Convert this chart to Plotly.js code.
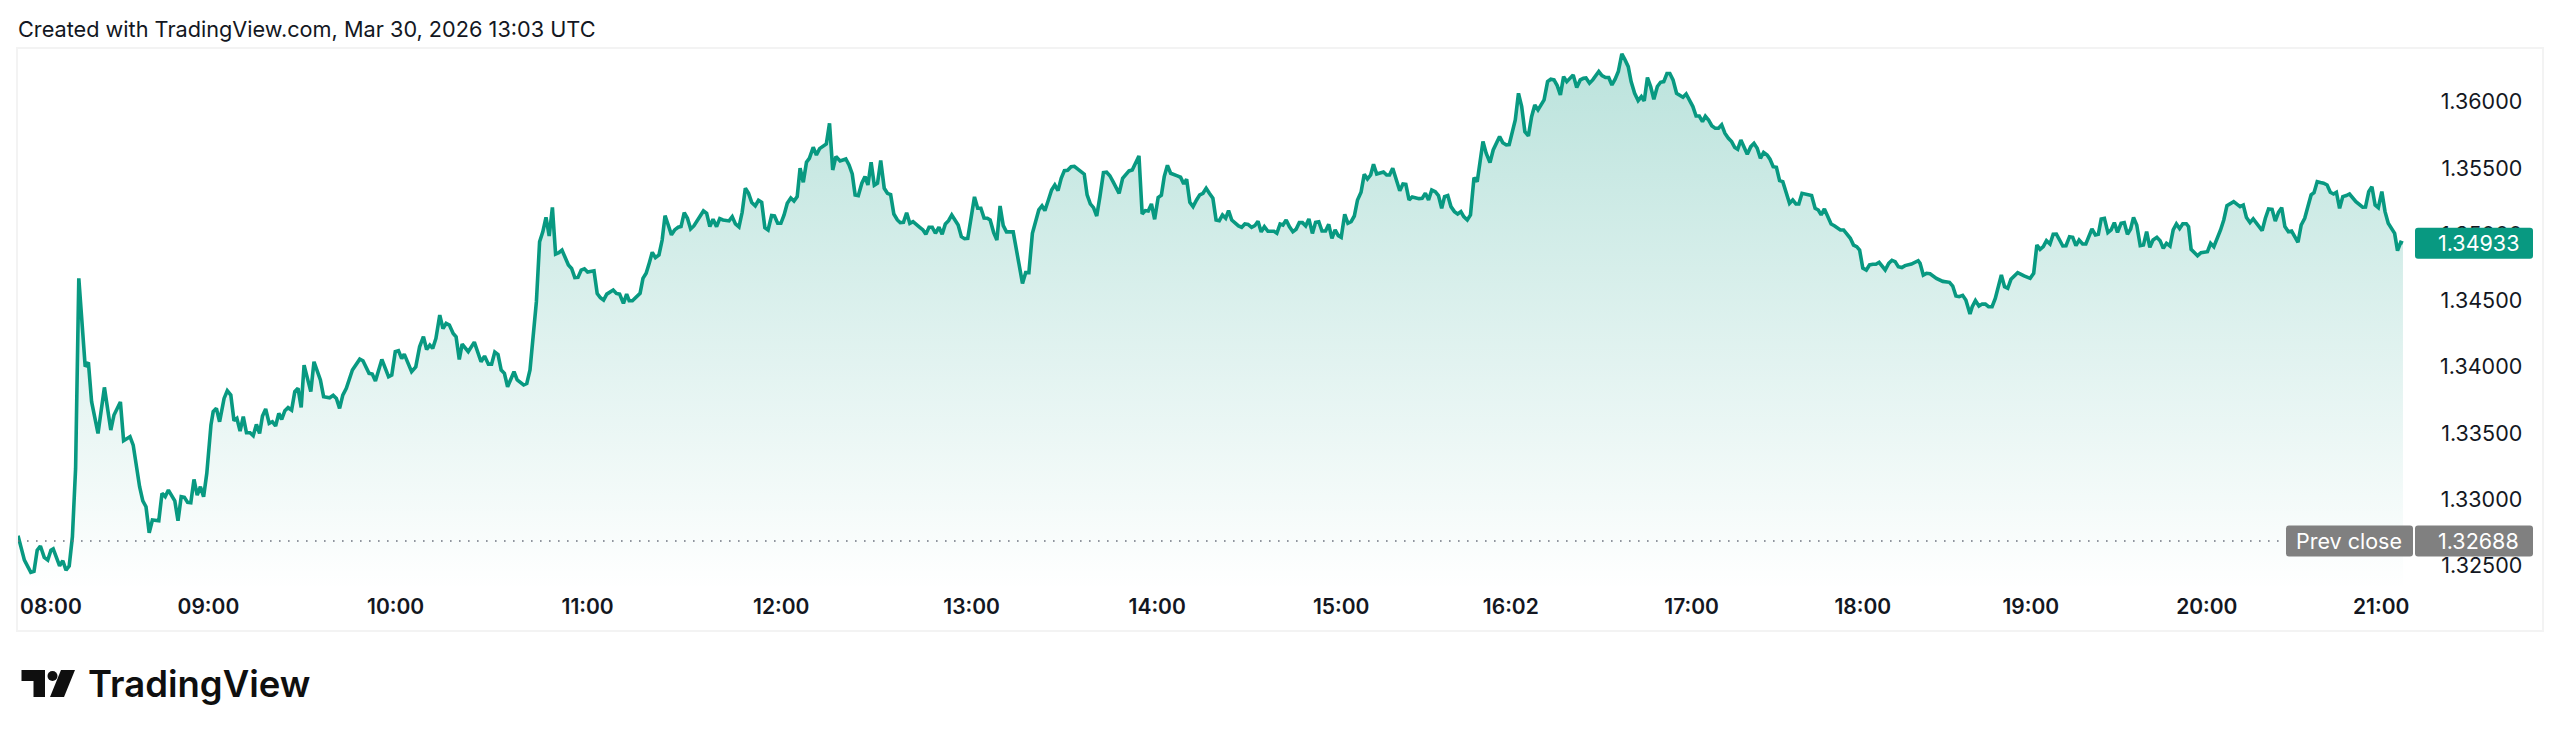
<!DOCTYPE html>
<html><head><meta charset="utf-8">
<script src="https://cdn.plot.ly/plotly-3.0.1.min.js"></script>
<style>html,body{margin:0;padding:0;background:#fff}#c{width:2560px;height:739px}</style>
</head><body><div id="c"></div>
<script>
const captionText = "Created with TradingView.com, Mar 30, 2026 13:03 UTC";
const brandText = "TradingView";
const lastPrice = 1.34933;
const prevClose = 1.32688;
const priceTicks = [1.325,1.33,1.335,1.34,1.345,1.35,1.355,1.36];
const timeLabels = ["08:00","09:00","10:00","11:00","12:00","13:00","14:00","15:00","16:02","17:00","18:00","19:00","20:00","21:00"];
const timeBars   = [10.3,59.5,118,178,238.5,298,356,413.5,466.5,523,576.5,629,684,738.5];

const barsA = [0,1.4,2,4,5,6,7,8.2,9.3,10.3,
11,13,14,15,16,17,18,19,21,22,
23,25,27,29,30,32,33,35,36,38,
39,40,41,42,44,45,46,47,49,50,
51,52,53,54,55,56,57,58,59,60.3,
61,62,63,64.4,65.4,66.5,67.5,68.4,69.4,70.4,
71.4,72.5,73.5,74.5,75.5,76.4,77.4,78.5,79.5,80.5,
81.5,82.4,83.4,84.4,85.5,86.5,87.5,88.5,89.4,91.5,
92.5,94.5,95.5,97.4,98.5,99.5,100.5,101.5,102.6,104.5,
106.8,107.8,109.7,110.7,111.7,113.7,115.8,116.8,117.9,118.9,
119.9,120.7,122,123,124.3,125.5,126.7,127.7,128.7,129.6,
130.6,131.8,132.8,133.8,134.8,136,136.9,137.9,138.8,140.7,
142.6,144.7,145.8,147,148,149,150,151,152,153,
155,156,158,159,160,161,162,163,164,165,
166,167,168,169,170,172,173,174,175,176,
177,178,180,181,182,183,184,186,187,188,
189.2,190.2,191,192];
const pricesA = [1.32728,1.32607,1.32544,1.32451,1.32459,1.32619,1.3265,1.32564,1.32544,1.32619,
1.32629,1.32501,1.32539,1.32469,1.32499,1.3272,1.33235,1.34668,1.34002,1.34034,
1.33738,1.33499,1.33846,1.33524,1.33638,1.33736,1.33444,1.33474,1.33411,1.33097,
1.32991,1.32946,1.3275,1.32846,1.32841,1.33047,1.33022,1.33072,1.32991,1.32841,
1.33022,1.33017,1.32979,1.32976,1.33152,1.33034,1.33097,1.33022,1.33198,1.33562,
1.33663,1.33688,1.33587,1.33763,1.33821,1.33788,1.33595,1.33612,1.33517,1.33625,
1.33504,1.33504,1.33482,1.33567,1.33499,1.3363,1.33683,1.33575,1.33587,1.33555,
1.3365,1.33605,1.3367,1.33693,1.33675,1.33814,1.33839,1.33695,1.34014,1.33814,
1.34039,1.33902,1.33776,1.33768,1.33786,1.33763,1.33688,1.33788,1.33839,1.33977,
1.34059,1.34047,1.33952,1.33947,1.33894,1.34057,1.33927,1.33939,1.34115,1.34123,
1.34064,1.34097,1.34014,1.33964,1.3400,1.34152,1.34228,1.34132,1.34165,1.3414,
1.34215,1.34391,1.3429,1.34328,1.34316,1.34253,1.34228,1.34057,1.34172,1.34115,
1.34187,1.34039,1.34082,1.34021,1.34021,1.34112,1.34094,1.33977,1.33952,1.33851,
1.33964,1.33902,1.33864,1.33876,1.33977,1.34253,1.34492,1.34944,1.35019,1.35128,
1.34987,1.35203,1.34851,1.34861,1.34881,1.34768,1.34743,1.34673,1.34675,1.3473,
1.3474,1.34715,1.34725,1.34554,1.34522,1.34504,1.34549,1.3458,1.34554,1.34549,
1.34479,1.34549,1.34499,1.34499];

const barsB = [194.4,195.3,196.3,197.3,198.2,199.2,200.3,201.3,202.2,203.2,
204.2,205.2,206.3,207.2,208.2,209.2,210.2,211.2,213.3,214.2,
215.2,216.2,217.2,218.3,219.3,220.3,222.2,223.2,224.2,225.3,
226.3,227.3,228.3,229.3,230.4,231.4,232.4,233.4,234.4,235.5,
236.4,237.4,238.4,239.4,240.4,241.5,242.5,243.5,244.4,245.4,
246.4,247.3,248.5,249.5,250.5,252.6,253.6,254.6,255.6,256.9,
258.7,259.7,260.7,261.6,262.6,263.7,264.7,265.6,266.6,267.6,
268.6,269.6,270.7,271.7,272.7,273.7,274.8,275.7,276.7,277.7,
278.7,279.7,281.8,282.8,283.7,284.7,285.7,286.7,287.8,288.8,
289.8,290.8,291.8,292.7,293.8,294.8,295.8,296.8,297.8,298.9,
299.9,300.9,301.9,302.9,303.8,304.9,305.9,306.9,307.9,308.9,
311,312,312.9,313.9,314.9,315.9,317,318,319,320,
320.9,322,323,324,325,326,327,328,329.1,330.1,
331.1,333.2,334.1,335.1,336.1,337.1,338.1,339.2,340.2,341.2,
342.2,343.2,344.1,345.2,346.2,347.2,348.2,350.3,351.3,352.3,
353.2,354.2,355.2,356.3,357.3,358.2,359.2,360.2,362.3,363.3,
364.3,365.2,366.2,367.2,368.3,369.3,370.3,371.3,372.3,373.4,
374.4,375.4,376.4,377.4,378.3,379.3,381.4,382.4,383.4,384.4,
385.5,386.5,387.5,388.5,389.5,390.6,392.5,393.4,394.4];
const pricesB = [1.34555,1.34668,1.34706,1.34786,1.34864,1.34824,1.34844,1.34957,1.35141,1.3507,
1.34996,1.35033,1.35053,1.35058,1.35163,1.35121,1.3504,1.35063,1.35138,1.35176,
1.35158,1.35058,1.35113,1.35058,1.35118,1.35108,1.35101,1.35133,1.35078,1.35055,
1.35166,1.35347,1.35309,1.35239,1.35214,1.35256,1.35241,1.3505,1.35033,1.35141,
1.35138,1.35083,1.35083,1.35146,1.35234,1.35274,1.35251,1.35284,1.35498,1.35392,
1.35543,1.35573,1.35656,1.35598,1.35646,1.35681,1.35837,1.35485,1.35586,1.35553,
1.35568,1.35523,1.35455,1.35297,1.35292,1.35385,1.35435,1.35372,1.35543,1.3537,
1.35385,1.35556,1.35347,1.35309,1.35299,1.35153,1.35108,1.35088,1.3509,1.35163,
1.35083,1.35096,1.35053,1.35033,1.35,1.35053,1.35053,1.35008,1.35053,1.35,
1.35078,1.35103,1.35146,1.35113,1.3507,1.34982,1.34967,1.3497,1.35108,1.35282,
1.35196,1.35196,1.35123,1.35121,1.35108,1.35013,1.34957,1.35214,1.35065,1.35018,
1.35018,1.34882,1.34781,1.3463,1.34711,1.34711,1.35008,1.35108,1.35184,1.35214,
1.35179,1.35259,1.35334,1.35372,1.35329,1.35422,1.3548,1.35483,1.3551,1.35513,
1.35495,1.35453,1.35297,1.35229,1.35201,1.35138,1.35284,1.35465,1.35468,1.35442,
1.35397,1.35342,1.35309,1.35422,1.35448,1.35478,1.35485,1.35591,1.35153,1.35179,
1.35176,1.35229,1.35113,1.35277,1.35294,1.35435,1.3552,1.3546,1.3544,1.3543,
1.3538,1.35415,1.35241,1.35209,1.35259,1.35297,1.35309,1.35347,1.35309,1.35272,
1.35108,1.35103,1.35146,1.35121,1.35179,1.35108,1.35063,1.35053,1.35078,1.35075,
1.35053,1.35065,1.35098,1.35018,1.35058,1.35023,1.35023,1.35008,1.35078];

const barsC = [395.3,396.3,397.3,398.4,399.4,400.4,401.4,402.4,403.4,404.5,
405.5,406.5,407.5,408.6,409.6,410.6,411.6,412.6,413.5,414.6,
415.6,416.6,417.6,418.6,419.7,420.7,421.7,422.7,423.6,424.6,
426.7,427.7,428.6,429.6,430.6,431.8,432.8,433.7,434.7,435.7,
437.8,438.8,439.8,440.8,441.8,442.9,443.9,444.9,445.8,446.8,
447.8,448.9,449.9,450.9,451.8,452.9,453.9,455,456,456.9,
457.8,458.8,460,461,462,463,464,465.1,466,467,
467.9,468.9,469.9,470.9,472,473,474,475,476.9,478,
479,480,481,482,483,484,486,487.1,488.2,489.2,
490,491.1,492.1,494,495,496.1,497.1,498.1,499.1,500.1,
501.2,502.2,503.2,504.1,505.2,506.3,507.3,508.2,509.2,510.2,
511.2,512.3,513.3,514.3,515.3,516.2,517.2,518.3,520.3,521.3,
522.3,523.4,524.4,525.4,526.4,527.3,528.3,529.3,530.4,531.4,
532.4,533.4,534.5,535.5,536.5,537.4,538.4,539.4,540.4,541.5,
542.5,543.5,544.5,545.5,546.6,547.5,548.5,549.5,550.5,551.5,
552.6,553.6,554.6,555.6,556.5,557.5,560.5,561.6,562.6,563.5,
564.5,565.6,566.6,567.6,569.5,570.5,571.6,572.6,573.6,574.6,
575.5,576.5,577.6,578.6,579.6,580.6,581.6,582.5,583.5,584.6,
585.6,586.6,587.6,588.7,589.7,591.7,592.7,593.8];
const pricesC = [1.3507,1.35108,1.35058,1.3502,1.35038,1.35088,1.35088,1.35063,1.35116,1.35007,
1.3509,1.35095,1.35025,1.35025,1.35075,1.3497,1.35033,1.3499,1.34977,1.35151,
1.35083,1.35095,1.35138,1.35259,1.35317,1.35452,1.35417,1.35447,1.35528,1.35455,
1.3547,1.35447,1.35447,1.35498,1.35422,1.35329,1.3538,1.35377,1.35259,1.35281,
1.35269,1.35271,1.35309,1.35259,1.35334,1.35322,1.35292,1.35196,1.35284,1.35292,
1.35209,1.35171,1.35153,1.35171,1.35133,1.35108,1.35146,1.35427,1.35397,1.35548,
1.35699,1.35611,1.3554,1.35636,1.35686,1.35737,1.35691,1.35674,1.35676,1.35762,
1.35862,1.36063,1.35963,1.35774,1.35742,1.35887,1.35975,1.35938,1.36013,1.36151,
1.36169,1.36164,1.36121,1.36051,1.36189,1.36151,1.36202,1.36106,1.36164,1.36176,
1.36179,1.36139,1.36164,1.36227,1.36197,1.36182,1.36182,1.36126,1.36169,1.36227,
1.3636,1.36315,1.36264,1.36151,1.36063,1.36008,1.36038,1.36006,1.36182,1.36114,
1.36018,1.36114,1.36146,1.36151,1.36212,1.36212,1.36164,1.36063,1.36033,1.36058,
1.36008,1.35963,1.35892,1.35892,1.3585,1.3589,1.35862,1.35819,1.35799,1.35799,
1.35825,1.35762,1.35724,1.35699,1.35654,1.35641,1.35711,1.35656,1.35603,1.35661,
1.35686,1.35649,1.35573,1.35618,1.35598,1.35566,1.3551,1.35505,1.35405,1.35397,
1.35304,1.35234,1.35259,1.35229,1.35229,1.35309,1.35292,1.35196,1.35183,1.35146,
1.35191,1.35133,1.35078,1.35065,1.35033,1.35033,1.35002,1.3497,1.34919,1.34907,
1.34882,1.34746,1.34731,1.34769,1.34774,1.34774,1.34789,1.34764,1.34731,1.34781,
1.34804,1.34794,1.34756,1.34749,1.34764,1.34776,1.34789,1.34801];

const barsD = [594.4,595.4,596.4,597.5,599.5,601.5,603.6,604.6,605.6,606.6,
607.7,608.7,610,610.7,611.7,612.8,613.8,614.8,615.8,616.9,
617.9,618.9,619.8,620.8,621.8,622.8,623.9,624.9,626.9,628.8,
629.9,630.9,631.9,632.9,633.9,635,636,637,638,639,
640,641.1,642.1,643.1,644.1,645.2,646.2,647.2,648.1,649.2,
650.1,651,652,653.1,654.1,655.1,656.1,657.2,658.2,659.2,
660.2,661.1,662.1,663.2,664.2,665.2,666.2,667.2,668.4,669.4,
670.4,671.4,672.5,673.5,674.5,675.5,676.5,677.6,678.3,679.1,
680.1,681.1,682.2,684.2,685.2,686.2,688.3,689.3,690.3,692.4,
694.4,695.4,696.4,697.5,698.5,699.5,701.3,702.3,703.3,704.4,
705.4,706.4,707.4,708.4,709.5,710.5,712.5,713.5,714.6,715.6,
716.6,717.5,718.5,719.5,720.5,721.6,722.6,723.6,724.5,725.5,
726.5,727.6,728.6,730.6,732.7,733.6,734.6,735.6,736.6,737.6,
738.7,739.7,740.7,742.7,743.6,744.6,745.3];
const pricesD = [1.34781,1.34693,1.34706,1.34703,1.34668,1.34645,1.34638,1.3461,1.34535,1.3453,
1.3454,1.34505,1.34399,1.34454,1.345,1.34459,1.34474,1.34474,1.34454,1.34454,
1.34517,1.34618,1.34693,1.34605,1.34593,1.34661,1.34688,1.34711,1.34686,1.34668,
1.34706,1.34919,1.34887,1.34907,1.34952,1.34927,1.35,1.35002,1.34957,1.34912,
1.34914,1.34982,1.34977,1.34914,1.34957,1.34927,1.34927,1.34982,1.3504,1.34995,
1.35,1.35116,1.35121,1.35013,1.35033,1.35088,1.35015,1.35083,1.35088,1.35,
1.3504,1.35128,1.3507,1.34914,1.34919,1.3502,1.34902,1.34957,1.34977,1.34952,
1.34894,1.34932,1.34912,1.35033,1.35078,1.35043,1.3508,1.3508,1.35058,1.34887,
1.34862,1.34839,1.34862,1.34869,1.34932,1.34907,1.35033,1.35108,1.35216,1.35246,
1.35209,1.35221,1.35126,1.35088,1.35116,1.35088,1.35028,1.35121,1.35191,1.35188,
1.351,1.35166,1.35201,1.35058,1.3502,1.35025,1.3494,1.3507,1.35121,1.35209,
1.35297,1.35314,1.35397,1.3539,1.35385,1.35372,1.35317,1.35304,1.35317,1.35196,
1.35284,1.35292,1.35304,1.35246,1.35204,1.35206,1.35322,1.35359,1.35221,1.35201,
1.35322,1.35171,1.35083,1.35007,1.34877,1.3494,1.34933];

const bars = [...barsA,...barsB,...barsC,...barsD];
const prices = [...pricesA,...pricesB,...pricesC,...pricesD];

// pane geometry
const W=2560,H=739,L=18,R=2542,T=49,B=630;
const xMax=(R-L)/3.2, yMin=1.32017, yMax=1.36397;
const fx=p=>(p-L)/(R-L), fy=p=>(B-p)/(B-T), fv=v=>(v-yMin)/(yMax-yMin);
const font="Inter, 'Liberation Sans', sans-serif", ink="#131722", teal="#089981", grey="#808080";

function tag(x0,x1,v,color){
  const r=3/(R-L), ry=3/(B-T), a=fx(x0), b=fx(x1), c=fv(v)-15.5/(B-T), d=fv(v)+15.5/(B-T);
  return {type:"path",xref:"paper",yref:"paper",layer:"above",fillcolor:color,line:{width:0},
    path:`M${a+r},${c} L${b-r},${c} Q${b},${c} ${b},${c+ry} L${b},${d-ry} Q${b},${d} ${b-r},${d} L${a+r},${d} Q${a},${d} ${a},${d-ry} L${a},${c+ry} Q${a},${c} ${a+r},${c} Z`};
}
function poly(pts,color){
  return {type:"path",xref:"paper",yref:"paper",layer:"above",fillcolor:color,line:{width:0},
    path:"M"+pts.map(p=>fx(p[0])+","+fy(p[1])).join(" L")+" Z"};
}
const logoInk="#0f0f0f";
const shapes=[
 {type:"line",xref:"x",yref:"y",x0:0,x1:(2282-L)/3.2,y0:prevClose,y1:prevClose,layer:"above",
  line:{color:"#6f7480",width:1.6,dash:"1.6px,7.4px"}},
 tag(2415,2533,lastPrice,teal),
 tag(2286,2413,prevClose,grey),
 tag(2415,2533,prevClose,grey),
 poly([[21.5,670],[45,670],[45,697],[33.5,697],[33.5,681],[21.5,681]],logoInk),
 {type:"circle",xref:"paper",yref:"paper",layer:"above",fillcolor:logoInk,line:{width:0},
  x0:fx(47.5),x1:fx(57.5),y0:fy(681),y1:fy(671)},
 poly([[61,670],[75,670],[64,697],[50,697]],logoInk)
];
const txt=(text,x,y,size,color,extra)=>Object.assign({text,xref:"paper",yref:"paper",x:fx(x),y,xanchor:"right",yanchor:"middle",
  showarrow:false,font:{family:font,size,color}},extra||{});
const annotations=[
 txt(lastPrice.toFixed(5),2521,fv(lastPrice),21.5,"#ffffff"),
 txt(prevClose.toFixed(5),2521,fv(prevClose),21.5,"#ffffff"),
 txt("Prev close",2404,fv(prevClose),21.5,"#ffffff"),
 {text:brandText,xref:"paper",yref:"paper",x:fx(86),y:fy(684),xanchor:"left",yanchor:"middle",showarrow:false,
  font:{family:font,size:36.5,color:logoInk,weight:600}}
];

Plotly.newPlot("c",[{
  type:"scatter",mode:"lines",x:bars,y:prices,
  line:{color:teal,width:3.6,shape:"linear"},
  fill:"tozeroy",
  fillgradient:{type:"vertical",start:yMax,stop:1.32317,
    colorscale:[[0,"rgba(8,153,129,0.28)"],[1,"rgba(8,153,129,0)"]]},
  hoverinfo:"skip",showlegend:false
}],{
  width:W,height:H,paper_bgcolor:"#fff",plot_bgcolor:"#fff",showlegend:false,
  margin:{l:L,r:W-R,t:T,b:H-B,pad:0},
  title:{text:captionText,x:L/W,xanchor:"left",xref:"container",y:1-29/H,yref:"container",yanchor:"middle",
    font:{family:font,size:21.7,color:ink}},
  xaxis:{range:[0,xMax],tickmode:"array",tickvals:timeBars,ticktext:timeLabels,showgrid:false,zeroline:false,
    showline:true,mirror:true,linecolor:"#f3f3f3",linewidth:2,ticks:"",
    ticklabelposition:"inside",ticklabelstandoff:13,
    tickfont:{family:font,size:21,color:ink,weight:600}},
  yaxis:{range:[yMin,yMax],side:"right",tickmode:"array",tickvals:priceTicks,tickformat:".5f",showgrid:false,zeroline:false,
    showline:true,mirror:true,linecolor:"#f3f3f3",linewidth:2,ticks:"",
    ticklabelposition:"inside",ticklabelstandoff:21,
    tickfont:{family:font,size:21.5,color:ink}},
  shapes,annotations
},{displayModeBar:false,staticPlot:true});
</script></body></html>
